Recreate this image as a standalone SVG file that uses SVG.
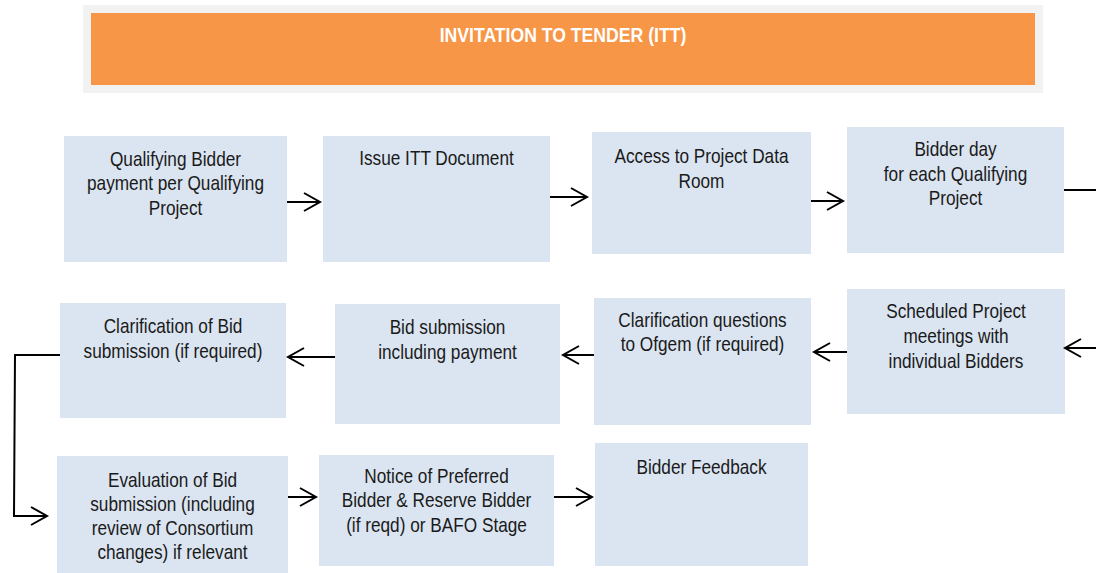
<svg xmlns="http://www.w3.org/2000/svg" width="1096" height="573" viewBox="0 0 1096 573">
<style>
.box{fill:#dbe5f1;}
.t{font-family:"Liberation Sans",Arial,sans-serif;font-size:21px;fill:#1a1a1a;text-anchor:middle;}
.title{font-family:"Liberation Sans",Arial,sans-serif;font-size:21px;font-weight:bold;fill:#ffffff;text-anchor:middle;}
.c{fill:none;stroke:#000;stroke-width:2;}
</style>
<defs>
<marker id="ah" markerUnits="userSpaceOnUse" markerWidth="24" markerHeight="24" viewBox="-20 -12 24 24" refX="0" refY="0" orient="auto">
<path d="M-16,-9 L0,0 L-16,9" fill="none" stroke="#000" stroke-width="2"/>
</marker>
</defs>
<rect width="1096" height="573" fill="#ffffff"/>
<g id="header">
<rect x="83" y="5" width="960" height="88" fill="#f2f2f2"/>
<rect x="91" y="13" width="944" height="72" fill="#f79646"/>
<g transform="translate(563,0) scale(0.84,1)"><text class="title" x="0" y="42">INVITATION TO TENDER (ITT)</text></g>
</g>
<g id="n1">
<rect class="box" x="64" y="136" width="223" height="126"/>
<g transform="translate(175.5,0) scale(0.82,1)"><text class="t" x="0" y="166">Qualifying Bidder</text><text class="t" x="0" y="190">payment per Qualifying</text><text class="t" x="0" y="215">Project</text></g>
</g>
<g id="n2">
<rect class="box" x="323" y="136" width="227" height="126"/>
<g transform="translate(436.5,0) scale(0.82,1)"><text class="t" x="0" y="165">Issue ITT Document</text></g>
</g>
<g id="n3">
<rect class="box" x="592" y="132" width="219" height="122"/>
<g transform="translate(701.5,0) scale(0.82,1)"><text class="t" x="0" y="163">Access to Project Data</text><text class="t" x="0" y="188">Room</text></g>
</g>
<g id="n4">
<rect class="box" x="847" y="127" width="217" height="126"/>
<g transform="translate(955.5,0) scale(0.82,1)"><text class="t" x="0" y="156">Bidder day</text><text class="t" x="0" y="181">for each Qualifying</text><text class="t" x="0" y="205">Project</text></g>
</g>
<g id="n5">
<rect class="box" x="60" y="303" width="226" height="115"/>
<g transform="translate(173,0) scale(0.82,1)"><text class="t" x="0" y="333">Clarification of Bid</text><text class="t" x="0" y="358">submission (if required)</text></g>
</g>
<g id="n6">
<rect class="box" x="335" y="304" width="225" height="120"/>
<g transform="translate(447.5,0) scale(0.82,1)"><text class="t" x="0" y="334">Bid submission</text><text class="t" x="0" y="359">including payment</text></g>
</g>
<g id="n7">
<rect class="box" x="594" y="298" width="217" height="127"/>
<g transform="translate(702.5,0) scale(0.82,1)"><text class="t" x="0" y="327">Clarification questions</text><text class="t" x="0" y="351">to Ofgem (if required)</text></g>
</g>
<g id="n8">
<rect class="box" x="847" y="289" width="218" height="125"/>
<g transform="translate(956,0) scale(0.82,1)"><text class="t" x="0" y="318">Scheduled Project</text><text class="t" x="0" y="343">meetings with</text><text class="t" x="0" y="368">individual Bidders</text></g>
</g>
<g id="n9">
<rect class="box" x="57" y="456" width="231" height="117"/>
<g transform="translate(172.5,0) scale(0.82,1)"><text class="t" x="0" y="487">Evaluation of Bid</text><text class="t" x="0" y="511">submission (including</text><text class="t" x="0" y="535">review of Consortium</text><text class="t" x="0" y="559">changes) if relevant</text></g>
</g>
<g id="n10">
<rect class="box" x="319" y="455" width="235" height="111"/>
<g transform="translate(436.5,0) scale(0.82,1)"><text class="t" x="0" y="483">Notice of Preferred</text><text class="t" x="0" y="507">Bidder &amp; Reserve Bidder</text><text class="t" x="0" y="532">(if reqd) or BAFO Stage</text></g>
</g>
<g id="n11">
<rect class="box" x="595" y="443" width="213" height="123"/>
<g transform="translate(701.5,0) scale(0.82,1)"><text class="t" x="0" y="474">Bidder Feedback</text></g>
</g>
<g id="connectors">
<line class="c" x1="287" y1="202" x2="320" y2="202" marker-end="url(#ah)"/>
<line class="c" x1="550" y1="197" x2="587" y2="197" marker-end="url(#ah)"/>
<line class="c" x1="811" y1="201" x2="843" y2="201" marker-end="url(#ah)"/>
<line class="c" x1="1064" y1="190" x2="1096" y2="190"/>
<line class="c" x1="1096" y1="348" x2="1065" y2="348" marker-end="url(#ah)"/>
<line class="c" x1="847" y1="352" x2="814" y2="352" marker-end="url(#ah)"/>
<line class="c" x1="594" y1="355" x2="563" y2="355" marker-end="url(#ah)"/>
<line class="c" x1="335" y1="357" x2="288" y2="357" marker-end="url(#ah)"/>
<polyline class="c" points="60,355 15,355 14,516 47,516" marker-end="url(#ah)"/>
<line class="c" x1="288" y1="497" x2="316" y2="497" marker-end="url(#ah)"/>
<line class="c" x1="554" y1="497" x2="592" y2="497" marker-end="url(#ah)"/>
</g>
</svg>
